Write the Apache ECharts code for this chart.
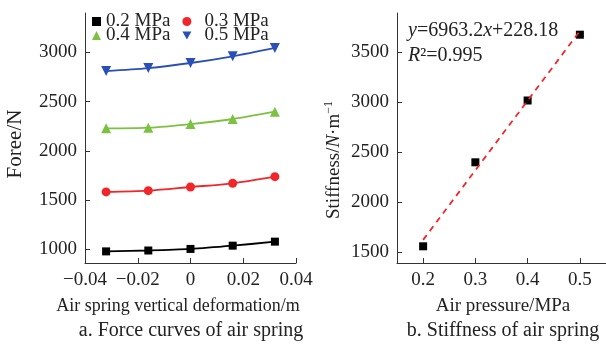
<!DOCTYPE html>
<html>
<head>
<meta charset="utf-8">
<script src="https://cdn.jsdelivr.net/npm/echarts@6/dist/echarts.min.js"></script>
<style>
  html, body { margin: 0; padding: 0; background: #fff; }
  #chart { width: 606px; height: 349px; }
</style>
</head>
<body>
<div id="chart"></div>
<script>
// left panel: force vs deformation
const deformation = [-0.032, -0.016, 0, 0.016, 0.032]
const pressureNames = ['0.2 MPa', '0.3 MPa', '0.4 MPa', '0.5 MPa']
const force02 = [978, 987, 1003, 1036, 1077]
const force03 = [1582, 1595, 1632, 1670, 1737]
const force04 = [2228, 2235, 2272, 2323, 2397]
const force05 = [2810, 2840, 2892, 2960, 3045]
const forceTicks = [1000, 1500, 2000, 2500, 3000]
const deformTicks = [-0.04, -0.02, 0, 0.02, 0.04]

// right panel: stiffness vs pressure
const pressure = [0.2, 0.3, 0.4, 0.5]
const stiffness = [1557, 2397, 3015, 3673]
const fitPressure = [0.2, 0.5]
const fitStiffness = [1621, 3710]
const stiffTicks = [1500, 2000, 2500, 3000, 3500]
const pressureTicks = [0.2, 0.3, 0.4, 0.5]

const FONT = '"Liberation Serif", "Times New Roman", serif'
const FS = 19
const AXIS_COLOR = '#333'
const colors = ['#000000', '#f0262b', '#7dc142', '#2a50b8']
const symbols = ['rect', 'circle', 'triangle', 'triangle']
const legendIcons = ['rect', 'circle', 'triangle', 'path://M0,0 L10,0 L5,9 Z']
const forces = [force02, force03, force04, force05]

const fmtNum = v => {
  const n = parseFloat(v.toFixed(2))
  return n < 0 ? '\u2212' + Math.abs(n) : String(n)
}

const chart = echarts.init(document.getElementById('chart'), null, { renderer: 'canvas' })

const axisCommon = {
  axisLine: { onZero: false, lineStyle: { color: AXIS_COLOR, width: 1 } },
  axisTick: { inside: true, length: 5, lineStyle: { color: AXIS_COLOR } },
  axisLabel: { color: '#222', fontFamily: FONT, fontSize: FS, margin: 8, formatter: fmtNum },
  splitLine: { show: false }
}

const option = {
  backgroundColor: '#fff',
  animation: false,
  textStyle: { fontFamily: FONT },
  grid: [
    { left: 85, top: 13, right: 310, bottom: 86 },
    { left: 397, top: 13, right: -3, bottom: 86 }
  ],
  xAxis: [
    {
      ...axisCommon,
      gridIndex: 0, type: 'value', min: -0.04, max: 0.04, interval: 0.02,
      axisTick: { ...axisCommon.axisTick, customValues: deformTicks },
      axisLabel: { ...axisCommon.axisLabel, customValues: deformTicks }
    },
    {
      ...axisCommon,
      gridIndex: 1, type: 'value', min: 0.15, max: 0.55,
      axisTick: { ...axisCommon.axisTick, customValues: pressureTicks },
      axisLabel: { ...axisCommon.axisLabel, customValues: pressureTicks }
    }
  ],
  yAxis: [
    {
      ...axisCommon,
      gridIndex: 0, type: 'value', min: 860, max: 3400,
      axisTick: { ...axisCommon.axisTick, customValues: forceTicks },
      axisLabel: { ...axisCommon.axisLabel, customValues: forceTicks }
    },
    {
      ...axisCommon,
      gridIndex: 1, type: 'value', min: 1390, max: 3890,
      axisTick: { ...axisCommon.axisTick, customValues: stiffTicks },
      axisLabel: { ...axisCommon.axisLabel, customValues: stiffTicks }
    }
  ],
  legend: [0, 1].map(row => ({
    left: 92,
    top: 12 + row * 14,
    itemWidth: 9,
    itemHeight: 9,
    itemGap: 12,
    padding: 0,
    textStyle: { fontFamily: FONT, fontSize: FS, color: '#222', lineHeight: 14 },
    data: [row * 2, row * 2 + 1].map((i, col) => ({
      name: pressureNames[i],
      icon: legendIcons[i],
      itemStyle: { color: colors[i] },
      textStyle: { padding: [0, 0, 0, col === 1 ? 8 : 0] }
    }))
  })),
  series: [
    ...forces.map((vals, i) => ({
      name: pressureNames[i],
      type: 'line',
      xAxisIndex: 0,
      yAxisIndex: 0,
      smooth: 0.3,
      symbol: symbols[i],
      symbolSize: i === 1 ? 9 : (i >= 2 ? 10 : 8),
      symbolRotate: i === 3 ? 180 : 0,
      itemStyle: { color: colors[i] },
      lineStyle: { color: colors[i], width: 1.8 },
      data: deformation.map((x, j) => [x, vals[j]])
    })),
    {
      name: 'fit',
      type: 'line',
      xAxisIndex: 1,
      yAxisIndex: 1,
      symbol: 'none',
      lineStyle: { color: '#f0262b', width: 1.8, type: [6, 5] },
      data: fitPressure.map((x, j) => [x, fitStiffness[j]])
    },
    {
      name: 'stiffness',
      type: 'scatter',
      xAxisIndex: 1,
      yAxisIndex: 1,
      symbol: 'rect',
      symbolSize: 8,
      itemStyle: { color: '#000', opacity: 1 },
      data: pressure.map((x, j) => [x, stiffness[j]])
    }
  ],
  graphic: [
    {
      type: 'text', x: 15, y: 144, rotation: Math.PI / 2,
      style: { text: 'Foree/N', font: `21px ${FONT}`, fill: '#222', align: 'center', verticalAlign: 'middle' }
    },
    {
      type: 'text', x: 178, y: 306,
      style: { text: 'Air spring vertical deformation/m', font: `18px ${FONT}`, fill: '#222', align: 'center', verticalAlign: 'middle' }
    },
    {
      type: 'text', x: 191, y: 331,
      style: { text: 'a. Force curves of air spring', font: `20px ${FONT}`, fill: '#222', align: 'center', verticalAlign: 'middle' }
    },
    {
      type: 'text', x: 334, y: 160, rotation: Math.PI / 2,
      style: {
        text: 'Stiffness/{i|N}·m{s|\u22121}',
        font: `${FS}px ${FONT}`, fill: '#222', align: 'center', verticalAlign: 'middle',
        rich: {
          i: { fontStyle: 'italic', fontFamily: FONT, fontSize: FS },
          s: { fontFamily: FONT, fontSize: 12, verticalAlign: 'bottom', padding: [0, 0, 10, 0] }
        }
      }
    },
    {
      type: 'text', x: 503, y: 306,
      style: { text: 'Air pressure/MPa', font: `${FS}px ${FONT}`, fill: '#222', align: 'center', verticalAlign: 'middle' }
    },
    {
      type: 'text', x: 503, y: 331,
      style: { text: 'b. Stiffness of air spring', font: `20px ${FONT}`, fill: '#222', align: 'center', verticalAlign: 'middle' }
    },
    {
      type: 'text', x: 408, y: 31,
      style: {
        text: '{i|y}=6963.2{i|x}+228.18',
        font: `20px ${FONT}`, fill: '#222', align: 'left', verticalAlign: 'middle',
        rich: { i: { fontStyle: 'italic', fontFamily: FONT, fontSize: 20 } }
      }
    },
    {
      type: 'text', x: 408, y: 56,
      style: {
        text: '{i|R}\u00b2=0.995',
        font: `20px ${FONT}`, fill: '#222', align: 'left', verticalAlign: 'middle',
        rich: { i: { fontStyle: 'italic', fontFamily: FONT, fontSize: 20 } }
      }
    }
  ]
}

chart.setOption(option)
</script>
</body>
</html>
